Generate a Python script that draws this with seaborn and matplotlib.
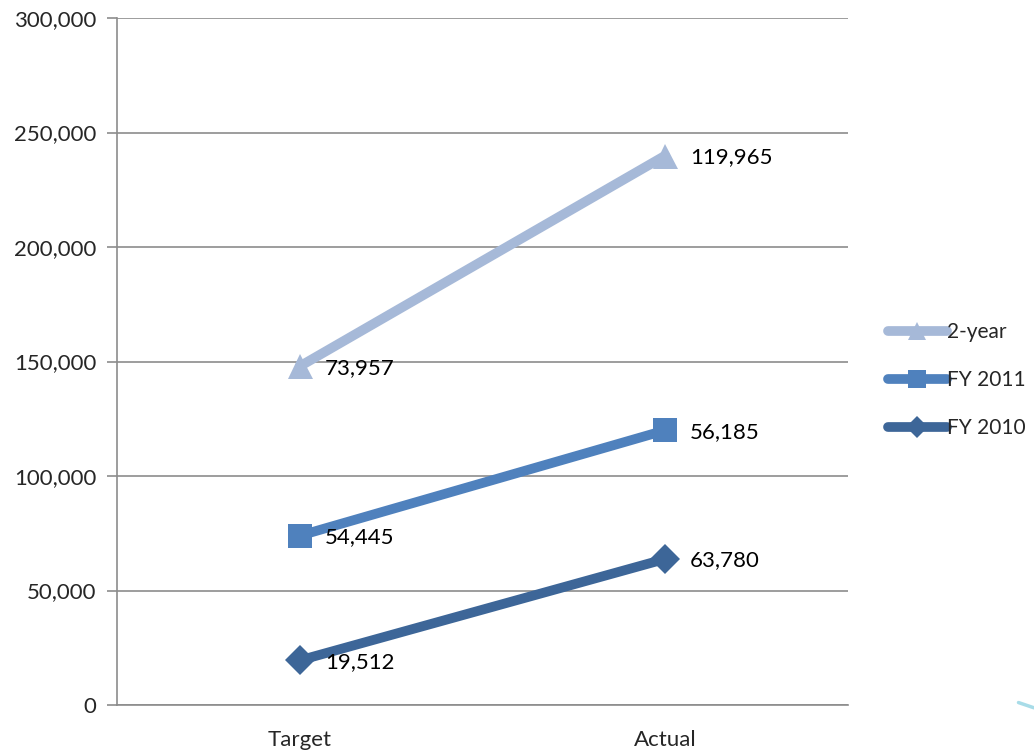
import pandas as pd
import matplotlib.pyplot as plt
import matplotlib.ticker as mticker
from matplotlib.lines import Line2D
import seaborn as sns

categories = ["Target", "Actual"]
fy2010 = [19512, 63780]
fy2011 = [54445, 56185]
two_year = [73957, 119965]

series_names = ["FY 2010", "FY 2011", "2-year"]
series_vals = [fy2010, fy2011, two_year]
colors = {"FY 2010": "#3d6698", "FY 2011": "#4f81bd", "2-year": "#a6b9d8"}
markers = {"FY 2010": "D", "FY 2011": "s", "2-year": "^"}
msizes = {"FY 2010": 15, "FY 2011": 17, "2-year": 18}

# stacked line chart: each series sits on top of the previous one
rows = []
base = [0, 0]
for name, vals in zip(series_names, series_vals):
    base = [b + v for b, v in zip(base, vals)]
    for i, cat in enumerate(categories):
        rows.append({"cat": i, "stacked": base[i], "value": vals[i], "series": name})
df = pd.DataFrame(rows)

sns.set_style("white")
plt.rcParams["font.family"] = ["Lato", "DejaVu Sans"]
fs = 16

fig = plt.figure(figsize=(10.34, 7.53), dpi=100)
ax = fig.add_axes([0.1132, 0.0637, 0.7068, 0.9123])

ax.set_ylim(0, 300000)
ax.set_xlim(-0.5, 1.5)
ax.yaxis.set_major_locator(mticker.MultipleLocator(50000))
ax.yaxis.set_major_formatter(mticker.FuncFormatter(lambda v, p: f"{int(v):,}"))
ax.grid(axis="y", color="#8c8c8c", linewidth=1.2)
ax.set_axisbelow(True)

for name in series_names:
    sub = df[df["series"] == name]
    sns.lineplot(data=sub, x="cat", y="stacked", ax=ax, color=colors[name],
                 linewidth=7, marker=markers[name], markersize=msizes[name],
                 markeredgewidth=0, solid_capstyle="round", legend=False)
    for _, r in sub.iterrows():
        ax.annotate(f"{int(r['value']):,}", (r["cat"], r["stacked"]),
                    xytext=(18, -1), textcoords="offset points",
                    ha="left", va="center", fontsize=fs, color="black")

ax.set_xticks([0, 1])
ax.set_xticklabels(categories, fontsize=fs)
ax.set_xticks([-0.5, 0.5, 1.5], minor=True)
ax.tick_params(axis="x", which="major", length=0, pad=18)
ax.tick_params(axis="x", which="minor", length=7, color="#8c8c8c", width=1.2, direction="out")
ax.tick_params(axis="y", length=7, color="#8c8c8c", width=1.2, direction="out",
               labelsize=fs, left=True, pad=8)
ax.set_xlabel("")
ax.set_ylabel("")
for s in ["top", "right"]:
    ax.spines[s].set_visible(False)
for s in ["left", "bottom"]:
    ax.spines[s].set_color("#8c8c8c")
    ax.spines[s].set_linewidth(1.2)

handles = [Line2D([0], [0], color=colors[n], linewidth=7, marker=markers[n],
                  markersize=msizes[n] * 0.75, markeredgewidth=0, solid_capstyle="round")
           for n in ["2-year", "FY 2011", "FY 2010"]]
fig.legend(handles, ["2-year", "FY 2011", "FY 2010"], loc="center left",
           bbox_to_anchor=(0.851, 0.495), frameon=False, fontsize=15,
           handlelength=2.8, handletextpad=0.0, labelspacing=1.35, borderaxespad=0)

fig.add_artist(Line2D([0.985, 1.0], [0.067, 0.060], color="#a8dce8", linewidth=2.5,
                      transform=fig.transFigure))

fig.savefig("out.png", dpi=100)
